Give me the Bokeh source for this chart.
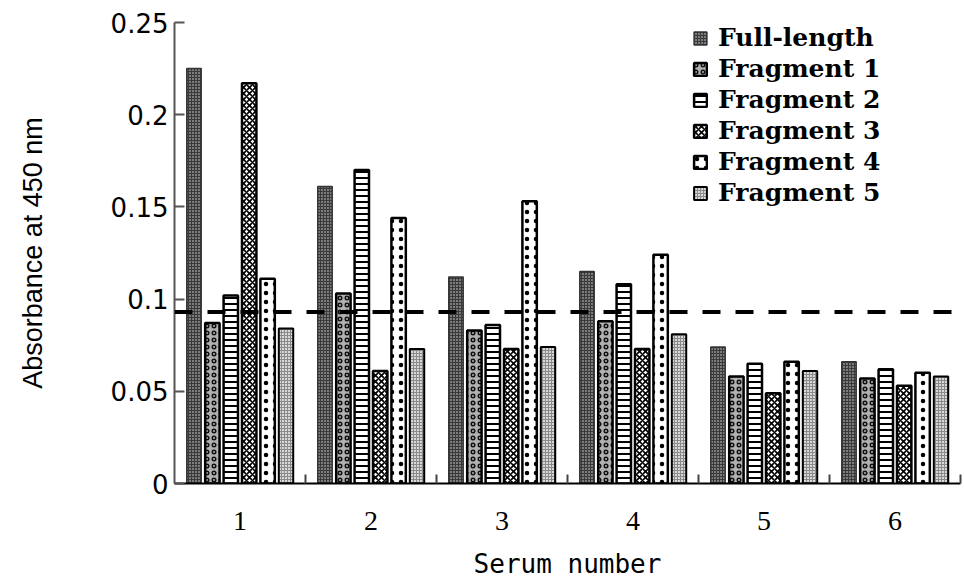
from bokeh.plotting import figure
from bokeh.models import Span, FixedTicker, Legend, LegendItem, Range1d
from bokeh.embed import file_html
from bokeh.resources import INLINE

serum = [1, 2, 3, 4, 5, 6]
series_names = ["Full-length", "Fragment 1", "Fragment 2", "Fragment 3", "Fragment 4", "Fragment 5"]
full_length = [0.225, 0.161, 0.112, 0.115, 0.074, 0.066]
fragment1 = [0.087, 0.103, 0.083, 0.088, 0.058, 0.057]
fragment2 = [0.102, 0.170, 0.086, 0.108, 0.065, 0.062]
fragment3 = [0.217, 0.061, 0.073, 0.073, 0.049, 0.053]
fragment4 = [0.111, 0.144, 0.153, 0.124, 0.066, 0.060]
fragment5 = [0.084, 0.073, 0.074, 0.081, 0.061, 0.058]
cutoff = 0.093
ytick_values = [0, 0.05, 0.1, 0.15, 0.2, 0.25]
ytick_labels = ["0", "0.05", "0.1", "0.15", "0.2", "0.25"]

series = [full_length, fragment1, fragment2, fragment3, fragment4, fragment5]

styles = [
    dict(fill_color="#7c7c7c", hatch_pattern="cross", hatch_color="#3a3a3a", hatch_scale=3, hatch_weight=1,
         line_color="#333333", line_width=1.5),
    dict(fill_color="#b0b0b0", hatch_pattern="ring", hatch_color="#111111", hatch_scale=7, hatch_weight=1.5,
         line_color="black", line_width=2.5),
    dict(fill_color="white", hatch_pattern="horizontal_line", hatch_color="black", hatch_scale=6, hatch_weight=2,
         line_color="black", line_width=2.5),
    dict(fill_color="white", hatch_pattern="diagonal_cross", hatch_color="black", hatch_scale=6, hatch_weight=1.6,
         line_color="black", line_width=2.5),
    dict(fill_color="white", hatch_pattern="dot", hatch_color="black", hatch_scale=9, hatch_weight=0.5,
         line_color="black", line_width=2.5),
    dict(fill_color="#d8d8d8", hatch_pattern="cross", hatch_color="#8a8a8a", hatch_scale=3, hatch_weight=1,
         line_color="black", line_width=2),
]

p = figure(width=964, height=582, x_range=Range1d(0.5, 6.5), y_range=Range1d(0, 0.25),
           output_backend="svg", toolbar_location=None,
           min_border_left=174, min_border_right=4, min_border_top=22, min_border_bottom=99)
p.outline_line_color = None
p.xgrid.grid_line_color = None
p.ygrid.grid_line_color = None

slot = 0.1405
bar_w = 0.11
items = []
for i, (name, vals, st) in enumerate(zip(series_names, series, styles)):
    xs = [s + (i - 2.5) * slot for s in serum]
    r = p.vbar(x=xs, top=vals, width=bar_w, bottom=0, **st)
    items.append(LegendItem(label=name, renderers=[r]))

p.add_layout(Span(location=cutoff, dimension="width", line_color="black", line_width=4, line_dash="18 15"))

# axes
p.yaxis.ticker = FixedTicker(ticks=ytick_values)
p.yaxis.major_label_overrides = {v: l for v, l in zip(ytick_values, ytick_labels)}
p.yaxis.major_tick_in = 10
p.yaxis.major_tick_out = 0
p.yaxis.minor_tick_line_color = None
p.yaxis.axis_line_color = "#555555"
p.yaxis.axis_line_width = 2
p.yaxis.major_tick_line_color = "#555555"
p.yaxis.major_tick_line_width = 2
p.yaxis.major_label_text_font = "DejaVu Sans"
p.yaxis.major_label_text_font_size = "26px"
p.yaxis.major_label_text_color = "black"
p.yaxis.major_label_standoff = 6
p.yaxis.axis_label = "Absorbance at 450 nm"
p.yaxis.axis_label_text_font = "Liberation Sans"
p.yaxis.axis_label_text_font_style = "normal"
p.yaxis.axis_label_text_font_size = "27px"
p.yaxis.axis_label_text_color = "black"
p.yaxis.axis_label_standoff = 60

p.xaxis.ticker = FixedTicker(ticks=serum, minor_ticks=[s + 0.5 for s in serum])
p.xaxis.major_tick_in = 0
p.xaxis.major_tick_out = 0
p.xaxis.minor_tick_in = 9
p.xaxis.minor_tick_out = 0
p.xaxis.minor_tick_line_color = "#444444"
p.xaxis.minor_tick_line_width = 2
p.xaxis.axis_line_color = "black"
p.xaxis.axis_line_width = 2
p.xaxis.major_label_text_font = "Liberation Serif"
p.xaxis.major_label_text_font_size = "28px"
p.xaxis.major_label_text_color = "black"
p.xaxis.major_label_standoff = 28
p.xaxis.axis_label = "Serum number"
p.xaxis.axis_label_text_font = "DejaVu Sans Mono"
p.xaxis.axis_label_text_font_style = "normal"
p.xaxis.axis_label_text_font_size = "26px"
p.xaxis.axis_label_text_color = "black"
p.xaxis.axis_label_standoff = 16

legend = Legend(items=items, location=(518, 276), padding=0, margin=0,
                glyph_width=16, glyph_height=16, label_height=24, spacing=2,
                label_standoff=10, border_line_color=None, background_fill_alpha=0,
                label_text_font="DejaVu Serif", label_text_font_style="bold",
                label_text_font_size="25px", label_text_color="black")
p.add_layout(legend)

open("out.html", "w").write(file_html(p, INLINE))
